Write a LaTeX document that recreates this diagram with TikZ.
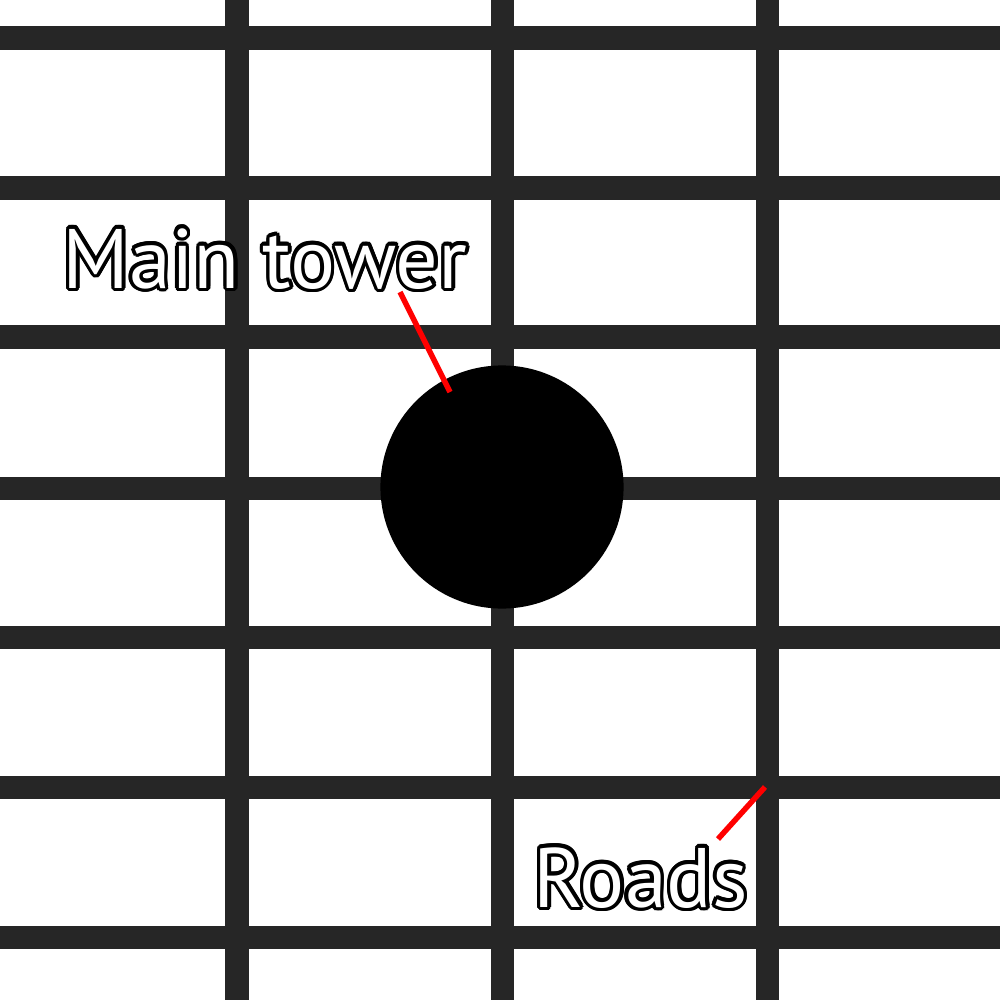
\documentclass[tikz,border=0pt]{standalone}
\usepackage{fontspec}
\setmainfont{PT Sans}
\usepackage{contour}
\contourlength{1pt}
\contournumber{16}
\definecolor{road}{HTML}{262626}
\tikzset{
  roadline/.style={draw=road, line width=0.23cm},
  label/.style={font=\fontsize{24}{30}\selectfont, inner sep=0pt, text=white},
  pointer/.style={draw=red, line width=0.055cm}
}
\begin{document}
\begin{tikzpicture}[x=0.01cm,y=-0.01cm]
\useasboundingbox[fill=white] (0,0) rectangle (1000,1000);
\begin{scope}
\clip (0,0) rectangle (1000,1000);
\foreach \y in {38,188,337,488,637,787,937} \draw[roadline] (-20,\y) -- (1020,\y);
\foreach \x in {237,502,767} \draw[roadline] (\x,-20) -- (\x,1020);
\end{scope}
\node[circle, fill=black, minimum size=2.43cm, inner sep=0pt] (tower) at (502,487) {};
\node[label, anchor=base west] (mt) at (62,288) {\contour{black}{Main tower}};
\node[label, anchor=base west] (rd) at (533,907) {\contour{black}{Roads}};
\coordinate (p1) at (400,292);
\coordinate (p2) at (450,392);
\coordinate (q1) at (718,839);
\coordinate (q2) at (765,787);
\draw[pointer] (p1) -- (p2);
\draw[pointer] (q1) -- (q2);
\end{tikzpicture}
\end{document}
